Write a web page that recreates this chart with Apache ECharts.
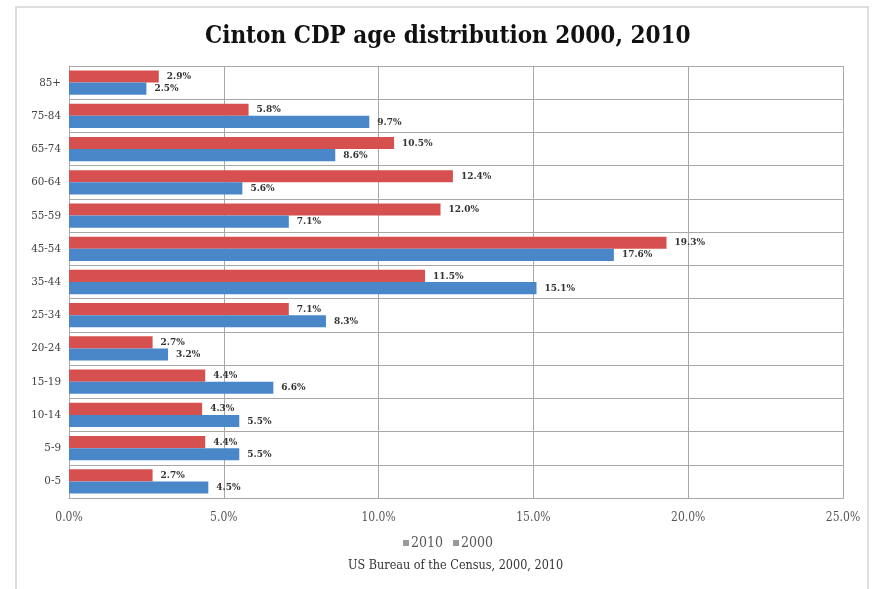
<!DOCTYPE html>
<html>
<head>
<meta charset="utf-8">
<script src="https://cdn.jsdelivr.net/npm/echarts@6/dist/echarts.min.js"></script>
<style>
  html, body { margin: 0; padding: 0; background: #ffffff; }
  #chart { width: 876px; height: 589px; }
</style>
</head>
<body>
<div id="chart"></div>
<script>
// Age groups, listed bottom to top on the category axis
const ageGroups = ['0-5', '5-9', '10-14', '15-19', '20-24', '25-34', '35-44', '45-54', '55-59', '60-64', '65-74', '75-84', '85+'];
// Share of population in each age group (%)
const share2010 = [2.7, 4.4, 4.3, 4.4, 2.7, 7.1, 11.5, 19.3, 12.0, 12.4, 10.5, 5.8, 2.9];
const share2000 = [4.5, 5.5, 5.5, 6.6, 3.2, 8.3, 15.1, 17.6, 7.1, 5.6, 8.6, 9.7, 2.5];
const xTicks = { min: 0, max: 25, interval: 5 };

const serif = '"DejaVu Serif Condensed", "DejaVu Serif", "Liberation Serif", serif';
const red = '#d5504e';
const blue = '#4a87c9';

const labelStyle = {
  show: true,
  position: 'right',
  distance: 8,
  fontFamily: serif,
  fontSize: 10,
  fontWeight: 'bold',
  color: '#333',
  formatter: p => p.value.toFixed(1) + '%'
};

const chart = echarts.init(document.getElementById('chart'));
chart.setOption({
  animation: false,
  backgroundColor: '#ffffff',
  graphic: [{
    type: 'rect',
    shape: { x: 16, y: 7, width: 852, height: 600 },
    style: { fill: 'none', stroke: '#d4d4d4', lineWidth: 1.5 },
    silent: true,
    z: -1
  }, {
    // closes the plot box on its top and right edges
    type: 'rect',
    shape: { x: 69.5, y: 66.5, width: 774, height: 432 },
    style: { fill: 'none', stroke: '#a8a8a8', lineWidth: 1 },
    silent: true,
    z: 0
  }],
  title: [{
    text: 'Cinton CDP age distribution 2000, 2010',
    left: 200,
    top: 20,
    textStyle: { fontFamily: serif, fontSize: 24, fontWeight: 'bold', color: '#111' }
  }, {
    text: 'US Bureau of the Census, 2000, 2010',
    left: 343,
    top: 554,
    textStyle: { fontFamily: serif, fontSize: 12.5, fontWeight: 'normal', color: '#333' }
  }],
  legend: {
    data: [
      { name: '2010', itemStyle: { color: '#999' } },
      { name: '2000', itemStyle: { color: '#999' } }
    ],
    left: 398,
    top: 531,
    icon: 'rect',
    itemWidth: 6,
    itemHeight: 6,
    itemGap: 10,
    textStyle: { fontFamily: serif, fontSize: 14, color: '#555', padding: [0, 0, 0, -3] }
  },
  grid: { left: 69, right: 33, top: 66, bottom: 91, containLabel: false },
  xAxis: {
    type: 'value',
    min: xTicks.min,
    max: xTicks.max,
    interval: xTicks.interval,
    axisLine: { show: true, lineStyle: { color: '#aaa' } },
    axisTick: { show: false },
    axisLabel: {
      margin: 14,
      fontFamily: serif,
      fontSize: 12,
      color: '#555',
      formatter: v => v.toFixed(1) + '%'
    },
    splitLine: { show: true, lineStyle: { color: '#a8a8a8', width: 1 } }
  },
  yAxis: {
    type: 'category',
    data: ageGroups,
    axisLine: { show: true, lineStyle: { color: '#aaa' } },
    axisTick: { show: false },
    axisLabel: { margin: 8, fontFamily: serif, fontSize: 11.5, color: '#444' },
    splitLine: { show: true, lineStyle: { color: '#a8a8a8', width: 1 } }
  },
  series: [{
    name: '2010',
    type: 'bar',
    data: share2010,
    itemStyle: { color: red },
    barGap: '0%',
    barCategoryGap: '27%',
    label: labelStyle
  }, {
    name: '2000',
    type: 'bar',
    data: share2000,
    itemStyle: { color: blue },
    barGap: '0%',
    barCategoryGap: '27%',
    label: labelStyle
  }]
});
</script>
</body>
</html>
